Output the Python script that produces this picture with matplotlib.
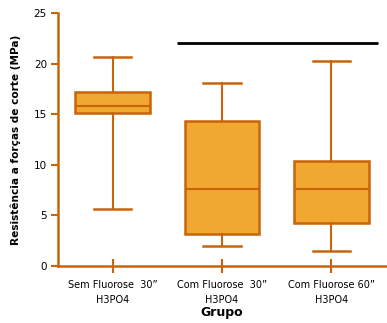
import matplotlib
matplotlib.use("Agg")
import matplotlib.pyplot as plt

groups = ["Sem Fluorose  30\u201d\nH3PO4", "Com Fluorose  30\u201d\nH3PO4", "Com Fluorose 60\u201d\nH3PO4"]
whislo = [5.6, 2.0, 1.5]
q1 = [15.1, 3.2, 4.2]
med = [15.85, 7.6, 7.6]
q3 = [17.2, 14.3, 10.4]
whishi = [20.7, 18.1, 20.3]
sig_y = 22.0
sig_x = [1.59, 3.43]

edge = "#C8640A"
fill = "#F0A830"

fig = plt.figure(figsize=(3.87, 3.23), dpi=100)
ax = fig.add_axes([58/387, 1-266/323, 328/387, 253/323])

stats = [dict(label=g, whislo=a, q1=b, med=c, q3=d, whishi=e, fliers=[])
         for g, a, b, c, d, e in zip(groups, whislo, q1, med, q3, whishi)]
ax.bxp(stats, positions=[1, 2, 3], widths=0.68, patch_artist=True, showfliers=False,
       boxprops=dict(facecolor=fill, edgecolor=edge, linewidth=1.8),
       medianprops=dict(color=edge, linewidth=1.5),
       whiskerprops=dict(color=edge, linewidth=1.5),
       capprops=dict(color=edge, linewidth=1.8), capwidths=0.34)

ax.plot(sig_x, [sig_y, sig_y], color="black", linewidth=2, solid_capstyle="butt")

ax.set_xlim(0.5, 3.5)
ax.set_ylim(0, 25)
ax.set_yticks([0, 5, 10, 15, 20, 25])
ax.set_xticks([1, 2, 3])
ax.set_xticklabels(groups, fontsize=7, linespacing=1.6)
ax.tick_params(axis="y", labelsize=7.5, color=edge, width=1.5, length=5, pad=3)
ax.tick_params(axis="x", color=edge, width=1.5, length=10, direction="inout", pad=5)
for s in ["top", "right"]:
    ax.spines[s].set_visible(False)
for s in ["left", "bottom"]:
    ax.spines[s].set_color(edge)
    ax.spines[s].set_linewidth(1.8)
ax.spines["left"].set_bounds(0, 25)
ax.set_ylabel("Resistência a forças de corte (MPa)", fontsize=7.6, fontweight="bold", labelpad=9)
ax.set_xlabel("Grupo", fontsize=9, fontweight="bold", labelpad=1)

fig.savefig("out.png", dpi=100)
